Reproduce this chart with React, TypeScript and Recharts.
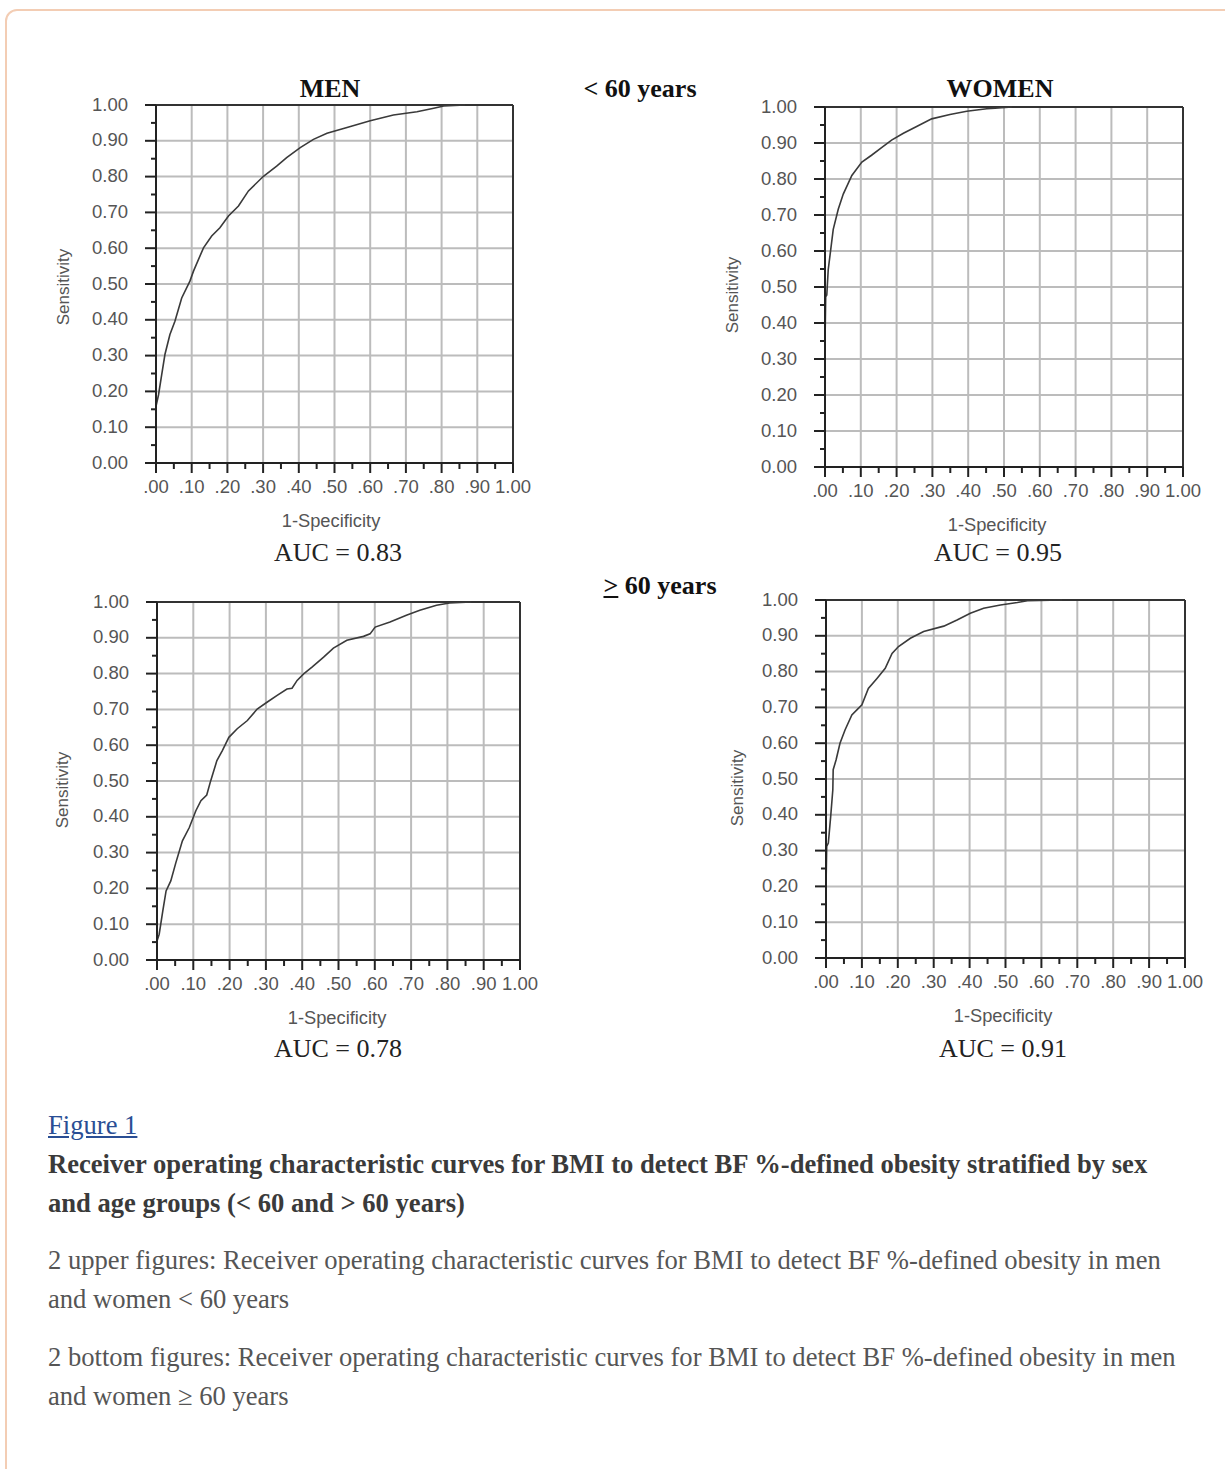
import { LineChart, Line, XAxis, YAxis, ReferenceLine } from 'recharts'

// tick values shared by every panel
const allTicks = [0, 0.05, 0.1, 0.15, 0.2, 0.25, 0.3, 0.35, 0.4, 0.45, 0.5, 0.55, 0.6, 0.65, 0.7, 0.75, 0.8, 0.85, 0.9, 0.95, 1]
const gridTicks = [0.1, 0.2, 0.3, 0.4, 0.5, 0.6, 0.7, 0.8, 0.9]

// men < 60 years
const menUnder60Fpr = [0, 0, 0.007, 0.016, 0.025, 0.039, 0.053, 0.072, 0.095, 0.105, 0.133, 0.156, 0.179, 0.203, 0.231, 0.259, 0.301, 0.338, 0.366, 0.404, 0.441, 0.479, 0.535, 0.6, 0.665, 0.731, 0.778, 0.806, 0.866]
const menUnder60Tpr = [0.098, 0.158, 0.19, 0.247, 0.303, 0.359, 0.396, 0.461, 0.508, 0.536, 0.601, 0.634, 0.657, 0.69, 0.718, 0.76, 0.801, 0.829, 0.853, 0.881, 0.904, 0.921, 0.937, 0.956, 0.972, 0.981, 0.991, 0.997, 1]

// women < 60 years
const womenUnder60Fpr = [0, 0.002, 0.005, 0.009, 0.016, 0.023, 0.037, 0.051, 0.075, 0.103, 0.13, 0.158, 0.186, 0.219, 0.256, 0.298, 0.349, 0.396, 0.452, 0.475, 0.522]
const womenUnder60Tpr = [0.346, 0.473, 0.478, 0.548, 0.604, 0.66, 0.716, 0.758, 0.81, 0.847, 0.866, 0.887, 0.908, 0.927, 0.946, 0.967, 0.979, 0.988, 0.995, 0.997, 1]

// men >= 60 years
const menOver60Fpr = [0, 0.006, 0.016, 0.025, 0.038, 0.052, 0.07, 0.089, 0.107, 0.121, 0.137, 0.148, 0.165, 0.18, 0.198, 0.221, 0.249, 0.276, 0.303, 0.331, 0.358, 0.372, 0.386, 0.404, 0.427, 0.459, 0.486, 0.523, 0.569, 0.587, 0.601, 0.642, 0.687, 0.724, 0.77, 0.806, 0.866]
const menOver60Tpr = [0.053, 0.072, 0.137, 0.193, 0.221, 0.272, 0.333, 0.37, 0.417, 0.445, 0.461, 0.501, 0.557, 0.585, 0.622, 0.646, 0.669, 0.701, 0.72, 0.739, 0.757, 0.759, 0.781, 0.799, 0.818, 0.846, 0.871, 0.893, 0.904, 0.911, 0.93, 0.944, 0.963, 0.977, 0.991, 0.997, 1]

// women >= 60 years
const womenOver60Fpr = [0, 0.002, 0.0065, 0.013, 0.019, 0.02, 0.028, 0.039, 0.053, 0.072, 0.086, 0.1, 0.118, 0.142, 0.165, 0.184, 0.202, 0.235, 0.272, 0.328, 0.365, 0.402, 0.439, 0.486, 0.533, 0.561, 0.658]
const womenOver60Tpr = [0.2, 0.312, 0.321, 0.395, 0.47, 0.526, 0.553, 0.6, 0.637, 0.679, 0.693, 0.707, 0.753, 0.781, 0.809, 0.851, 0.87, 0.893, 0.912, 0.927, 0.944, 0.963, 0.977, 0.986, 0.993, 0.998, 1]

const toPoints = (fpr: number[], tpr: number[]) => fpr.map((x, i) => ({ x, y: tpr[i] }))

const sans = '"Liberation Sans", Arial, sans-serif'
const serif = '"Liberation Serif", "Times New Roman", serif'
const AXIS = '#222'
const TICK_TEXT = '#555'
const TICK_FONT = 18.5

const isMajor = (v: number) => Math.round(v * 100) % 10 === 0
const xLabel = (v: number) => (v >= 1 ? '1.00' : '.' + Math.round(v * 100).toString().padStart(2, '0'))

function XTick(props: any) {
  const { x, y, payload } = props
  const v = payload.value
  const major = isMajor(v)
  return (
    <g>
      <line x1={x} x2={x} y1={y} y2={y + (major ? 10 : 6)} stroke={AXIS} strokeWidth={2} />
      {major && (
        <text x={x} y={y + 23} textAnchor="middle" dominantBaseline="central" fontFamily={sans} fontSize={TICK_FONT} fill={TICK_TEXT}>
          {xLabel(v)}
        </text>
      )}
    </g>
  )
}

function YTick(props: any) {
  const { x, y, payload } = props
  const v = payload.value
  const major = isMajor(v)
  return (
    <g>
      <line x1={x - (major ? 11 : 5)} x2={x} y1={y} y2={y} stroke={AXIS} strokeWidth={2} />
      {major && (
        <text x={x - 28} y={y - 1} textAnchor="end" dominantBaseline="central" fontFamily={sans} fontSize={TICK_FONT} fill={TICK_TEXT}>
          {v.toFixed(2)}
        </text>
      )}
    </g>
  )
}

const PAD_L = 110
const PAD_T = 20
const PAD_R = 20
const PAD_B = 50

type Panel = {
  fpr: number[]
  tpr: number[]
  left: number
  top: number
  w: number
  h: number
  auc: string
  specX: number
  specY: number
  aucX: number
  aucY: number
  sensX: number
  sensY: number
}

function RocPanel({ p }: { p: Panel }) {
  const data = toPoints(p.fpr, p.tpr)
  return (
    <>
      <div style={{ position: 'absolute', left: p.left - PAD_L, top: p.top - PAD_T }}>
        <LineChart width={p.w + PAD_L + PAD_R} height={p.h + PAD_T + PAD_B} data={data} margin={{ top: PAD_T, right: PAD_R, bottom: 0, left: 0 }}>
          {gridTicks.map((v) => (
            <ReferenceLine key={'gx' + v} x={v} stroke="#bcbcbc" strokeWidth={2} />
          ))}
          {gridTicks.map((v) => (
            <ReferenceLine key={'gy' + v} y={v} stroke="#bcbcbc" strokeWidth={2} />
          ))}
          <ReferenceLine x={1} stroke="#333" strokeWidth={2} />
          <ReferenceLine y={1} stroke="#333" strokeWidth={2} />
          <XAxis
            dataKey="x"
            type="number"
            domain={[0, 1]}
            ticks={allTicks}
            interval={0}
            height={PAD_B}
            tickSize={0}
            tickMargin={0}
            tickLine={false}
            axisLine={{ stroke: AXIS, strokeWidth: 2 }}
            tick={<XTick />}
          />
          <YAxis
            dataKey="y"
            type="number"
            domain={[0, 1]}
            ticks={allTicks}
            interval={0}
            width={PAD_L}
            tickSize={0}
            tickMargin={0}
            tickLine={false}
            axisLine={{ stroke: AXIS, strokeWidth: 2 }}
            tick={<YTick />}
          />
          <Line type="linear" dataKey="y" stroke="#3a3a3a" strokeWidth={1.6} dot={false} isAnimationActive={false} />
        </LineChart>
      </div>
      <Txt x={p.specX} y={p.specY} style={{ fontFamily: sans, fontSize: 18.3, color: TICK_TEXT }}>1-Specificity</Txt>
      <Txt x={p.aucX} y={p.aucY} style={{ fontFamily: serif, fontSize: 26, color: '#222' }}>{'AUC = ' + p.auc}</Txt>
      <Txt x={p.sensX} y={p.sensY} rotate style={{ fontFamily: sans, fontSize: 17, color: TICK_TEXT }}>Sensitivity</Txt>
    </>
  )
}

function Txt({ x, y, style, rotate, children }: { x: number; y: number; style?: any; rotate?: boolean; children: any }) {
  return (
    <div
      style={{
        position: 'absolute',
        left: x,
        top: y,
        transform: 'translate(-50%, -50%)' + (rotate ? ' rotate(-90deg)' : ''),
        whiteSpace: 'nowrap',
        lineHeight: 1,
        ...style,
      }}
    >
      {children}
    </div>
  )
}

const panels: Panel[] = [
  { fpr: menUnder60Fpr, tpr: menUnder60Tpr, left: 156, top: 105, w: 357, h: 358, auc: '0.83', specX: 331, specY: 521, aucX: 338, aucY: 553, sensX: 63, sensY: 287 },
  { fpr: womenUnder60Fpr, tpr: womenUnder60Tpr, left: 825, top: 107, w: 358, h: 360, auc: '0.95', specX: 997, specY: 525, aucX: 998, aucY: 553, sensX: 732, sensY: 295 },
  { fpr: menOver60Fpr, tpr: menOver60Tpr, left: 157, top: 602, w: 363, h: 358, auc: '0.78', specX: 337, specY: 1018, aucX: 338, aucY: 1049, sensX: 62, sensY: 790 },
  { fpr: womenOver60Fpr, tpr: womenOver60Tpr, left: 826, top: 600, w: 359, h: 358, auc: '0.91', specX: 1003, specY: 1016, aucX: 1003, aucY: 1049, sensX: 737, sensY: 788 },
]

const heading = { fontFamily: serif, fontSize: 26, fontWeight: 700, color: '#111' }
const CAPTION_FONT = 26.6

export default function App() {
  return (
    <div style={{ position: 'absolute', left: 0, top: 0, width: 1225, height: 1469, background: '#fff', overflow: 'hidden', fontFamily: serif }}>
      <div style={{ position: 'absolute', left: 5, top: 9, width: 1250, height: 1500, border: '2px solid #f3cdb4', borderRadius: 12, boxSizing: 'border-box' }} />

      <Txt x={330} y={89} style={heading}>MEN</Txt>
      <Txt x={1000} y={89} style={heading}>WOMEN</Txt>
      <Txt x={640} y={89} style={heading}>{'< 60 years'}</Txt>
      <Txt x={660} y={586} style={heading}>
        <span style={{ textDecoration: 'underline' }}>{'>'}</span> 60 years
      </Txt>

      {panels.map((p, i) => (
        <RocPanel key={i} p={p} />
      ))}

      <div style={{ position: 'absolute', left: 48, top: 1106, fontSize: CAPTION_FONT, lineHeight: '39px', color: '#2a4e94', textDecoration: 'underline' }}>Figure 1</div>
      <div style={{ position: 'absolute', left: 48, top: 1145, fontSize: CAPTION_FONT, lineHeight: '39px', color: '#3a3a3a', fontWeight: 700, whiteSpace: 'nowrap' }}>
        Receiver operating characteristic curves for BMI to detect BF %-defined obesity stratified by sex
        <br />
        {'and age groups (< 60 and > 60 years)'}
      </div>
      <div style={{ position: 'absolute', left: 48, top: 1241, fontSize: CAPTION_FONT, lineHeight: '39px', color: '#555', whiteSpace: 'nowrap' }}>
        2 upper figures: Receiver operating characteristic curves for BMI to detect BF %-defined obesity in men
        <br />
        {'and women < 60 years'}
      </div>
      <div style={{ position: 'absolute', left: 48, top: 1338, fontSize: CAPTION_FONT, lineHeight: '39px', color: '#555', whiteSpace: 'nowrap' }}>
        2 bottom figures: Receiver operating characteristic curves for BMI to detect BF %-defined obesity in men
        <br />
        {'and women ≥ 60 years'}
      </div>
    </div>
  )
}
